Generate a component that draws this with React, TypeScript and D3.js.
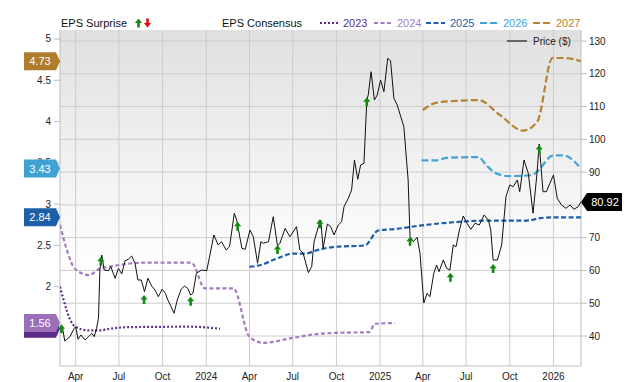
import React from "react";
import * as d3 from "d3";

const priceDates = ["2023-02-28","2023-03-04","2023-03-09","2023-03-20","2023-03-29","2023-04-01","2023-04-06","2023-04-12","2023-04-21","2023-04-28","2023-05-05","2023-05-10","2023-05-15","2023-05-19","2023-05-22","2023-05-26","2023-05-31","2023-06-09","2023-06-14","2023-06-23","2023-06-30","2023-07-07","2023-07-14","2023-07-21","2023-07-28","2023-08-04","2023-08-10","2023-08-17","2023-08-24","2023-08-31","2023-09-08","2023-09-15","2023-09-22","2023-09-30","2023-10-07","2023-10-12","2023-10-19","2023-10-25","2023-11-01","2023-11-09","2023-11-16","2023-11-23","2023-11-29","2023-12-04","2023-12-11","2023-12-22","2024-01-02","2024-01-17","2024-01-26","2024-02-02","2024-02-12","2024-02-19","2024-02-29","2024-03-05","2024-03-16","2024-03-23","2024-04-02","2024-04-09","2024-04-18","2024-04-25","2024-04-30","2024-05-11","2024-05-21","2024-05-30","2024-06-04","2024-06-15","2024-06-25","2024-07-09","2024-07-16","2024-07-23","2024-08-03","2024-08-10","2024-08-15","2024-08-24","2024-08-29","2024-09-03","2024-09-12","2024-09-19","2024-09-26","2024-10-05","2024-10-12","2024-10-17","2024-10-26","2024-11-02","2024-11-08","2024-11-15","2024-11-21","2024-11-28","2024-12-04","2024-12-07","2024-12-13","2024-12-20","2024-12-26","2025-01-02","2025-01-09","2025-01-17","2025-01-23","2025-01-30","2025-02-06","2025-02-20","2025-03-01","2025-03-05","2025-03-12","2025-03-20","2025-03-26","2025-04-03","2025-04-10","2025-04-16","2025-04-24","2025-04-30","2025-05-05","2025-05-14","2025-05-21","2025-05-28","2025-06-04","2025-06-10","2025-06-17","2025-06-25","2025-07-03","2025-07-11","2025-07-20","2025-07-29","2025-08-08","2025-08-17","2025-08-22","2025-08-27","2025-09-05","2025-09-14","2025-09-23","2025-10-01","2025-10-08","2025-10-17","2025-10-22","2025-10-31","2025-11-09","2025-11-19","2025-11-27","2025-12-02","2025-12-10","2025-12-17","2026-01-01","2026-01-09","2026-01-18","2026-01-27","2026-02-05","2026-02-13","2026-02-22","2026-02-28"];
const priceValues = [42.45,42.84,38.48,39.8,42.36,42.84,39.0,40.31,38.79,39.8,40.83,39.8,42.36,45.41,60.14,64.72,60.14,59.93,61.15,57.61,60.66,58.92,62.98,63.4,64.41,62.19,57.09,57.09,53.52,57.61,55.26,54.04,52.0,54.25,53.03,50.99,48.95,46.93,50.99,54.25,55.26,54.56,52.51,53.03,59.13,60.14,59.93,70.82,67.77,68.77,66.24,67.25,77.44,75.39,66.76,66.46,72.34,70.3,62.19,68.77,68.29,68.77,76.4,67.46,68.29,72.86,70.3,73.35,66.24,65.24,59.32,61.15,68.77,73.35,75.39,66.76,74.17,73.35,70.82,73.87,74.88,79.45,82.01,84.55,93.7,87.81,92.17,92.69,112.0,113.53,120.63,112.0,113.53,118.1,114.53,124.72,123.99,112.52,110.48,103.86,87.6,70.3,68.77,70.12,65.24,50.07,53.03,52.0,59.13,61.67,59.62,63.19,60.66,60.14,67.77,67.25,72.34,76.61,74.39,72.56,74.39,73.87,76.92,75.39,72.34,63.19,63.19,67.77,82.5,86.07,85.55,87.6,84.03,93.7,89.64,77.44,89.12,98.58,84.03,84.03,89.12,82.01,79.97,78.96,79.97,78.66,79.45,80.92];

const eps2023Dates = ["2023-02-27","2023-03-30","2023-04-28","2023-05-22","2023-06-12","2023-07-24","2023-11-30","2024-01-30"];
const eps2023Values = [2.0,1.52,1.47,1.47,1.49,1.51,1.515,1.49];
const eps2024Dates = ["2023-02-27","2023-03-16","2023-03-30","2023-04-29","2023-05-22","2023-06-09","2023-08-21","2023-12-01","2023-12-29","2024-02-27","2024-04-01","2024-04-30","2024-07-02","2024-08-27","2024-09-30","2024-12-09","2024-12-21","2025-02-01"];
const eps2024Values = [2.75,2.4,2.22,2.14,2.22,2.24,2.29,2.29,1.98,1.98,1.39,1.32,1.38,1.43,1.44,1.45,1.55,1.56];
const eps2025Dates = ["2024-04-01","2024-04-23","2024-05-28","2024-07-02","2024-07-27","2024-08-20","2024-09-24","2024-11-30","2024-12-28","2025-02-05","2025-03-26","2025-06-04","2025-08-13","2025-11-05","2025-12-04","2026-01-01","2026-02-28"];
const eps2025Values = [2.24,2.26,2.34,2.4,2.4,2.44,2.48,2.5,2.68,2.7,2.74,2.78,2.8,2.8,2.83,2.84,2.84];
const eps2026Dates = ["2025-03-29","2025-04-30","2025-05-21","2025-07-27","2025-08-13","2025-08-31","2025-09-28","2025-11-16","2025-11-27","2026-01-01","2026-01-22","2026-02-28"];
const eps2026Values = [3.53,3.53,3.56,3.57,3.47,3.38,3.34,3.35,3.39,3.59,3.59,3.43];
const eps2027Dates = ["2025-04-01","2025-04-30","2025-06-11","2025-07-27","2025-09-10","2025-10-29","2025-11-28","2025-12-30","2026-01-25","2026-02-28"];
const eps2027Values = [4.14,4.23,4.25,4.26,4.08,3.89,4.0,4.77,4.77,4.73];

const surpriseDates = ["2023-03-02","2023-05-24","2023-08-23","2023-11-29","2024-03-07","2024-05-30","2024-08-27","2024-12-04","2025-03-05","2025-05-29","2025-08-27","2025-12-02"];
const surprisePrices = [43.58,64.2,52.51,52.0,74.88,67.77,75.61,112.82,70.3,59.32,61.97,98.27];

const leftTicks = [2, 2.5, 3, 3.5, 4, 4.5, 5];
const rightTicks = [40, 50, 60, 70, 80, 90, 100, 110, 120, 130];
const seriesYears = ["2023", "2024", "2025", "2026", "2027"];
const lastPriceLabel = "80.92";

const parse = d3.utcParse("%Y-%m-%d");

const W = 640, H = 382;
const L = 60, R = 581, T = 30, B = 366;

const colors: Record<string, string> = {
  "2023": "#5e2f8c",
  "2024": "#a47cc2",
  "2025": "#1f5eab",
  "2026": "#44a4d6",
  "2027": "#b5822f",
};
const tagColors: Record<string, string> = {
  "2023": "#5a2a86",
  "2024": "#9c70b8",
  "2025": "#1d5ea8",
  "2026": "#3ea2d2",
  "2027": "#b07c2e",
};
const dashes: Record<string, string> = {
  "2023": "2,2",
  "2024": "4,2.5",
  "2025": "5,2.5",
  "2026": "7,3",
  "2027": "7,3",
};

const FONT = "'Liberation Sans', Arial, Helvetica, sans-serif";

function upArrow(x: number, y: number) {
  return `M${x},${y} L${x + 3.6},${y + 4.5} L${x + 1.3},${y + 4.5} L${x + 1.3},${y + 9} L${x - 1.3},${y + 9} L${x - 1.3},${y + 4.5} L${x - 3.6},${y + 4.5} Z`;
}
function downArrow(x: number, y: number) {
  return `M${x},${y} L${x + 3.6},${y - 4.5} L${x + 1.3},${y - 4.5} L${x + 1.3},${y - 9} L${x - 1.3},${y - 9} L${x - 1.3},${y - 4.5} L${x - 3.6},${y - 4.5} Z`;
}

export default function App() {
  const x = d3.scaleUtc().domain([parse("2023-02-27")!, parse("2026-02-28")!]).range([L, R]);
  const yL = d3.scaleLinear().domain([1.039, 5.109]).range([B, T]);
  const yR = d3.scaleLinear().domain([30.85, 133.36]).range([B, T]);

  const price = priceDates.map((d, i) => ({ d: parse(d)!, v: priceValues[i] }));
  const eps: Record<string, { d: Date; v: number }[]> = {
    "2023": eps2023Dates.map((d, i) => ({ d: parse(d)!, v: eps2023Values[i] })),
    "2024": eps2024Dates.map((d, i) => ({ d: parse(d)!, v: eps2024Values[i] })),
    "2025": eps2025Dates.map((d, i) => ({ d: parse(d)!, v: eps2025Values[i] })),
    "2026": eps2026Dates.map((d, i) => ({ d: parse(d)!, v: eps2026Values[i] })),
    "2027": eps2027Dates.map((d, i) => ({ d: parse(d)!, v: eps2027Values[i] })),
  };

  const priceLine = d3.line<{ d: Date; v: number }>().x((p) => x(p.d)).y((p) => yR(p.v));
  const epsLine = d3.line<{ d: Date; v: number }>().x((p) => x(p.d)).y((p) => yL(p.v)).curve(d3.curveMonotoneX);

  const xTicks = x.ticks(d3.utcMonth.every(3)!);
  const fmtTick = (d: Date) => (d.getUTCMonth() === 0 ? d3.utcFormat("%Y")(d) : d3.utcFormat("%b")(d));

  const tagOrder = ["2023", "2024", "2025", "2026", "2027"];
  const leftTag = (cy: number) => `M24,${cy - 9} L56,${cy - 9} L60,${cy} L56,${cy + 9} L24,${cy + 9} Z`;
  const lastP = price[price.length - 1];
  const rcy = yR(lastP.v);

  const legendItems = [
    { y: "2023", lx: 320, tx: 343 },
    { y: "2024", lx: 374, tx: 397 },
    { y: "2025", lx: 426, tx: 450 },
    { y: "2026", lx: 480, tx: 503 },
    { y: "2027", lx: 533, tx: 556 },
  ];

  return (
    <svg width={W} height={H} style={{ position: "absolute", left: 0, top: 0, fontFamily: FONT }}>
      <defs>
        <linearGradient id="bg" x1="0" y1="0" x2="0" y2="1">
          <stop offset="0%" stopColor="#e0e0e0" />
          <stop offset="72%" stopColor="#ffffff" />
          <stop offset="100%" stopColor="#ffffff" />
        </linearGradient>
        <clipPath id="plot">
          <rect x={L} y={T} width={R - L} height={B - T} />
        </clipPath>
      </defs>
      <rect x={0} y={0} width={W} height={H} fill="#fff" />
      <rect x={L} y={T} width={R - L} height={B - T} fill="url(#bg)" />

      {xTicks.map((t, i) => (
        <line key={"gx" + i} x1={x(t)} x2={x(t)} y1={T} y2={B} stroke="#cccccc" strokeWidth={1} />
      ))}
      {rightTicks.map((t) => (
        <line key={"gy" + t} x1={L} x2={R} y1={yR(t)} y2={yR(t)} stroke="#cccccc" strokeWidth={1} />
      ))}

      <line x1={L} x2={L} y1={T} y2={B} stroke="#bdbdbd" />
      <line x1={R} x2={R} y1={T} y2={B} stroke="#bdbdbd" />
      <line x1={L} x2={R} y1={B} y2={B} stroke="#bdbdbd" />

      {leftTicks.map((t) => (
        <g key={"lt" + t}>
          <line x1={L - 6} x2={L} y1={yL(t)} y2={yL(t)} stroke="#bdbdbd" />
          <text x={L - 9} y={yL(t)} dy="0.35em" textAnchor="end" fontSize={10} fill="#222">
            {String(t)}
          </text>
        </g>
      ))}
      {rightTicks.map((t) => (
        <g key={"rt" + t}>
          <line x1={R} x2={R + 6} y1={yR(t)} y2={yR(t)} stroke="#bdbdbd" />
          {Math.abs(yR(t) - rcy) > 10 && (
            <text x={R + 8} y={yR(t)} dy="0.35em" textAnchor="start" fontSize={10} fill="#222">
              {String(t)}
            </text>
          )}
        </g>
      ))}
      {xTicks.map((t, i) => (
        <text key={"xt" + i} x={x(t)} y={B + 14} textAnchor="middle" fontSize={10} fill="#222">
          {fmtTick(t)}
        </text>
      ))}

      <g clipPath="url(#plot)">
        {seriesYears.map((s) => (
          <path
            key={"eps" + s}
            d={epsLine(eps[s]) || ""}
            fill="none"
            stroke={colors[s]}
            strokeWidth={2.2}
            strokeDasharray={dashes[s]}
          />
        ))}
        <path d={priceLine(price) || ""} fill="none" stroke="#111" strokeWidth={1} />
        {surpriseDates.map((d, i) => (
          <path key={"sa" + i} d={upArrow(x(parse(d)!), yR(surprisePrices[i]))} fill="#118a11" />
        ))}
      </g>

      <line x1={507} x2={527} y1={41} y2={41} stroke="#666" strokeWidth={2} />
      <text x={533} y={41} dy="0.35em" fontSize={10} fill="#222">Price ($)</text>

      <text x={61} y={27} fontSize={11} fill="#111">EPS Surprise</text>
      <path d={upArrow(138.5, 18.5)} fill="#118a11" />
      <path d={downArrow(147.5, 27.5)} fill="#e01010" />
      <text x={222} y={27} fontSize={11} fill="#111">EPS Consensus</text>
      {legendItems.map((it) => (
        <g key={"lg" + it.y}>
          <line x1={it.lx} x2={it.lx + 19} y1={23} y2={23} stroke={colors[it.y]} strokeWidth={2} strokeDasharray={dashes[it.y]} />
          <text x={it.tx} y={27} fontSize={11} fill={colors[it.y]}>{it.y}</text>
        </g>
      ))}

      {tagOrder.map((s) => {
        const arr = eps[s];
        const last = arr[arr.length - 1];
        const cy = yL(last.v);
        return (
          <g key={"tag" + s}>
            <path d={leftTag(cy)} fill={tagColors[s]} />
            {s !== "2023" && (
              <text x={40} y={cy} dy="0.36em" textAnchor="middle" fontSize={11} fill="#fff">
                {last.v.toFixed(2)}
              </text>
            )}
          </g>
        );
      })}

      <path d={`M${R},${rcy} L${R + 6},${rcy - 9} L622,${rcy - 9} L622,${rcy + 9} L${R + 6},${rcy + 9} Z`} fill="#000" />
      <text x={605} y={rcy} dy="0.36em" textAnchor="middle" fontSize={11} fill="#fff">{lastPriceLabel}</text>
    </svg>
  );
}
